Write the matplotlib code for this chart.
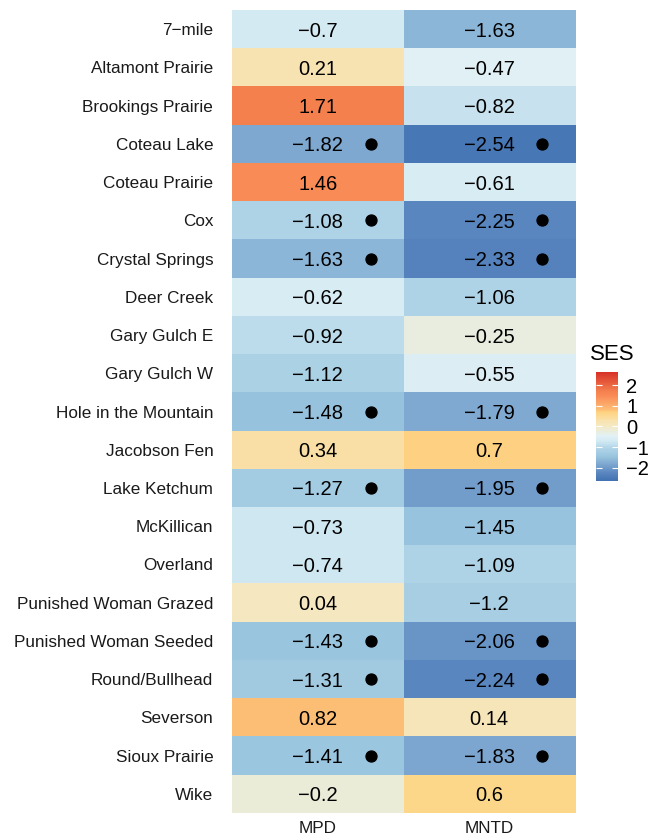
import matplotlib.pyplot as plt
import numpy as np
from matplotlib.colors import LinearSegmentedColormap, Normalize

plt.rcParams['font.family'] = ['Liberation Sans', 'DejaVu Sans']

# datos
sites = ["7\u2212mile", "Altamont Prairie", "Brookings Prairie", "Coteau Lake", "Coteau Prairie",
         "Cox", "Crystal Springs", "Deer Creek", "Gary Gulch E", "Gary Gulch W",
         "Hole in the Mountain", "Jacobson Fen", "Lake Ketchum", "McKillican", "Overland",
         "Punished Woman Grazed", "Punished Woman Seeded", "Round/Bullhead", "Severson",
         "Sioux Prairie", "Wike"]
metrics = ["MPD", "MNTD"]
mpd = [-0.7, 0.21, 1.71, -1.82, 1.46, -1.08, -1.63, -0.62, -0.92, -1.12, -1.48,
       0.34, -1.27, -0.73, -0.74, 0.04, -1.43, -1.31, 0.82, -1.41, -0.2]
mntd = [-1.63, -0.47, -0.82, -2.54, -0.61, -2.25, -2.33, -1.06, -0.25, -0.55, -1.79,
        0.7, -1.95, -1.45, -1.09, -1.2, -2.06, -2.24, 0.14, -1.83, 0.6]
sig_mpd = [0, 0, 0, 1, 0, 1, 1, 0, 0, 0, 1, 0, 1, 0, 0, 0, 1, 1, 0, 1, 0]
sig_mntd = [0, 0, 0, 1, 0, 1, 1, 0, 0, 0, 1, 0, 1, 0, 0, 0, 1, 1, 0, 1, 0]
cbar_ticks = [-2, -1, 0, 1, 2]

# paleta tipo RdYlBu (colores)
vmin, vmax = -2.65, 2.65
anchors = [(-2.65, "#4272B2"), (-2.25, "#5B87C0"), (-1.82, "#7EA8D0"), (-1.45, "#9AC5DF"),
           (-1.06, "#B0D4E7"), (-0.7, "#D3EAF3"), (-0.47, "#E1F1F6"), (-0.22, "#EBEDDB"),
           (0.04, "#F6E8C1"), (0.25, "#F8E3B0"), (0.6, "#FDD78A"), (0.72, "#FED080"),
           (0.82, "#FDBE76"), (1.46, "#FA8C58"), (1.71, "#F5814F"), (2.65, "#D73027")]
cmap = LinearSegmentedColormap.from_list(
    "ses", [((v - vmin) / (vmax - vmin), c) for v, c in anchors])
norm = Normalize(vmin=vmin, vmax=vmax)

vals = np.array([mpd, mntd]).T
sig = np.array([sig_mpd, sig_mntd]).T

fig = plt.figure(figsize=(6.51, 8.39), dpi=100)
ax = fig.add_axes([0.3564, 0.031, 0.5269, 0.957])
ax.imshow(vals, cmap=cmap, norm=norm, aspect='auto', interpolation='nearest',
          extent=(-0.5, 1.5, len(sites) - 0.5, -0.5))

def fmt(v):
    s = ('%.2f' % v).rstrip('0').rstrip('.')
    return s.replace('-', '\u2212')

for i in range(len(sites)):
    for j in range(len(metrics)):
        ax.text(j, i, fmt(vals[i, j]), ha='center', va='center_baseline',
                fontsize=14.5, color='black')
        if sig[i, j]:
            ax.scatter(j + 0.31, i, s=62, color='black', zorder=3)

ax.set_xlim(-0.5, 1.5)
ax.set_ylim(len(sites) - 0.5, -0.5)
ax.set_xticks(range(len(metrics)))
ax.set_xticklabels(metrics, fontsize=12.3, color='#1a1a1a')
ax.set_yticks(range(len(sites)))
ax.set_yticklabels(sites, fontsize=12.3, color='#1a1a1a')
ax.tick_params(axis='y', length=0, pad=13.5)
ax.tick_params(axis='x', length=0, pad=6)
for sp in ax.spines.values():
    sp.set_visible(False)

# leyenda
cax = fig.add_axes([0.9155, 0.4267, 0.034, 0.130])
cb = fig.colorbar(plt.cm.ScalarMappable(norm=norm, cmap=cmap), cax=cax, ticks=cbar_ticks)
cb.outline.set_visible(False)
cb.ax.set_yticklabels([fmt(t) for t in cbar_ticks], fontsize=14.5)
cb.ax.tick_params(length=4, color='white', direction='in', left=True, right=True, pad=6)
fig.text(0.907, 0.578, "SES", fontsize=16, ha='left', va='center')

fig.savefig("out.png", dpi=100)
